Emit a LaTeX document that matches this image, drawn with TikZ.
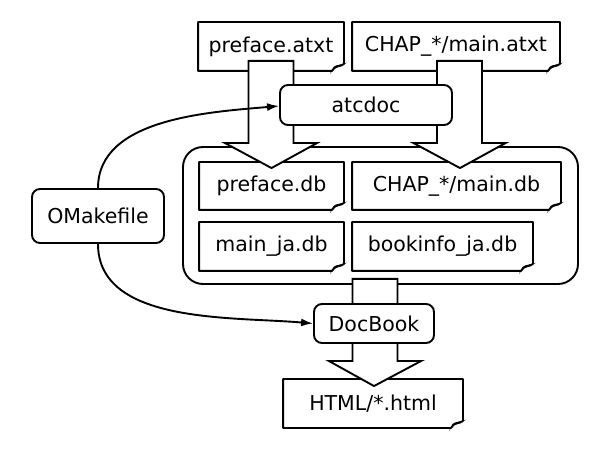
\documentclass[tikz,border=0pt]{standalone}
\usepackage{fontspec}
\setmainfont{DejaVu Sans}
\usetikzlibrary{calc,arrows.meta}
\tikzset{
  lw/.style={line width=1.9pt},
  docbox/.style={lw, fill=white, draw=none, inner sep=0pt, font=\fontsize{20.5}{24}\selectfont},
  procbox/.style={lw, draw, fill=white, rounded corners=8pt, inner sep=0pt, font=\fontsize{20.5}{24}\selectfont},
  groupbox/.style={lw, draw, rounded corners=20pt, inner sep=0pt},
  fat/.style={lw, draw, fill=white, line join=miter},
  conn/.style={lw, -{Latex[length=12pt,width=8pt]}},
}
\newcommand\foldoutline[1]{%
  \draw[lw, line join=round] (#1.north west) -- (#1.north east) -- ([yshift=7pt]#1.south east)
    .. controls ([xshift=-3pt,yshift=4pt]#1.south east) and ([xshift=-9pt,yshift=6pt]#1.south east) .. ([xshift=-12pt]#1.south east)
    -- (#1.south west) -- cycle;
  \filldraw[line width=0.8pt, fill=gray!50] ([yshift=7pt]#1.south east) -- ([xshift=-8pt,yshift=5pt]#1.south east)
    .. controls ([xshift=-10pt,yshift=4pt]#1.south east) .. ([xshift=-12pt]#1.south east)
    .. controls ([xshift=-9pt,yshift=6pt]#1.south east) and ([xshift=-3pt,yshift=4pt]#1.south east) .. cycle;}
% fat arrow from (top) to (tip), head height 25
\newcommand\fatarrow[2]{%
  \path[fat] let \p1=(#1), \p2=(#2) in
    (\x1-22.5pt,\y1) -- (\x1+22.5pt,\y1) -- (\x1+22.5pt,\y2+25pt) -- (\x1+46pt,\y2+25pt)
    -- (\x2,\y2) -- (\x1-46pt,\y2+25pt) -- (\x1-22.5pt,\y2+25pt) -- cycle;}
\begin{document}
\begin{tikzpicture}[x=1pt,y=-1pt]
\useasboundingbox (0,0) rectangle (600,454);
% source documents
\node[docbox, minimum width=144pt, minimum height=47pt] (pa) at (271,46.5) {preface.atxt};
\foldoutline{pa}
\node[docbox, minimum width=206pt, minimum height=47pt] (ca) at (456,46.5) {CHAP\_*/main.atxt};
\foldoutline{ca}
% group of docbook files
\node[groupbox, minimum width=395pt, minimum height=137pt] (grp) at (380.5,215.5) {};
\node[docbox, minimum width=143pt, minimum height=46pt] (pdb) at (271.5,186) {preface.db};
\foldoutline{pdb}
\node[docbox, minimum width=207pt, minimum height=46pt] (cdb) at (456.5,186) {CHAP\_*/main.db};
\foldoutline{cdb}
\node[docbox, minimum width=143pt, minimum height=47pt] (mdb) at (271.5,246.5) {main\_ja.db};
\foldoutline{mdb}
\node[docbox, minimum width=179pt, minimum height=47pt] (bdb) at (442.5,246.5) {bookinfo\_ja.db};
\foldoutline{bdb}
% output
\node[docbox, minimum width=178pt, minimum height=47pt] (html) at (373,403.5) {HTML/*.html};
\foldoutline{html}
% fat arrows
\coordinate (t1) at ([yshift=10pt]pa.south);
\coordinate (h1) at ([yshift=-6pt]pdb.north);
\fatarrow{t1}{h1}
\coordinate (t2) at ([xshift=3.5pt,yshift=10pt]ca.south);
\coordinate (h2) at ([xshift=3.5pt,yshift=-6pt]cdb.north);
\fatarrow{t2}{h2}
\coordinate (t3) at ([xshift=-5.5pt,yshift=6pt]grp.south);
\coordinate (h3) at ([xshift=1pt,yshift=-7pt]html.north);
\fatarrow{t3}{h3}
% processors
\node[procbox, minimum width=172pt, minimum height=40pt] (atc) at (366,105) {atcdoc};
\node[procbox, minimum width=120pt, minimum height=39pt] (dbk) at (374,323.5) {DocBook};
\node[procbox, minimum width=132pt, minimum height=54pt] (om) at (98,216) {OMakefile};
% connectors
\draw[conn] (om.north) to[out=90,in=185,looseness=0.9] ([yshift=-1pt]atc.west);
\draw[conn] (om.south) to[out=-90,in=175,looseness=0.9] (dbk.west);
\end{tikzpicture}
\end{document}
